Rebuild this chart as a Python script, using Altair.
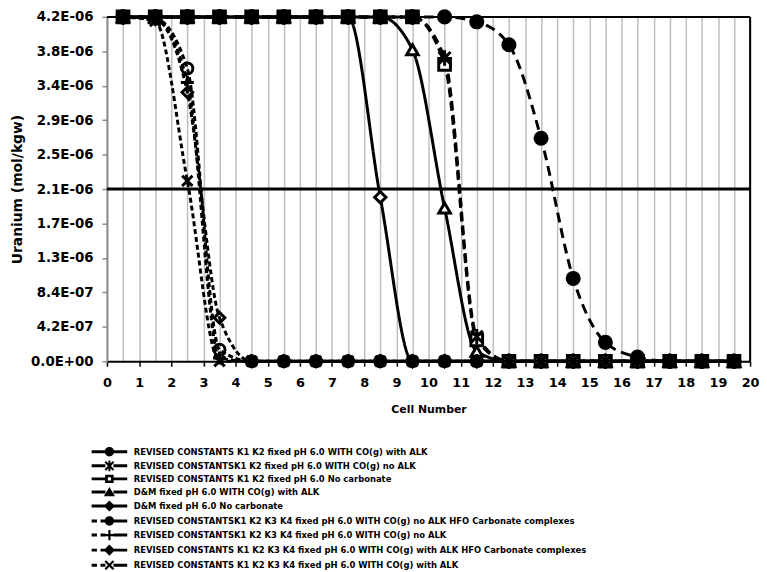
import altair as alt
import pandas as pd

# ---------------- data ----------------
cells = [0.5, 1.5, 2.5, 3.5, 4.5, 5.5, 6.5, 7.5, 8.5, 9.5,
         10.5, 11.5, 12.5, 13.5, 14.5, 15.5, 16.5, 17.5, 18.5, 19.5]

series_names = [
    "REVISED CONSTANTS K1 K2 fixed pH 6.0 WITH CO(g) with ALK",
    "REVISED CONSTANTSK1 K2 fixed pH 6.0 WITH CO(g) no ALK",
    "REVISED CONSTANTS K1 K2 fixed pH 6.0 No carbonate",
    "D&M fixed pH 6.0 WITH CO(g) with ALK",
    "D&M fixed pH 6.0 No carbonate",
    "REVISED CONSTANTSK1 K2 K3 K4 fixed pH 6.0 WITH CO(g) no ALK HFO Carbonate complexes",
    "REVISED CONSTANTSK1 K2 K3 K4 fixed pH 6.0 WITH CO(g) no ALK",
    "REVISED CONSTANTS K1 K2 K3 K4 fixed pH 6.0 WITH CO(g) with ALK HFO Carbonate complexes",
    "REVISED CONSTANTS K1 K2 K3 K4 fixed pH 6.0 WITH CO(g) with ALK",
]

s1 = [4.2e-6, 4.2e-6, 4.2e-6, 4.2e-6, 4.2e-6, 4.2e-6, 4.2e-6, 4.2e-6, 4.2e-6, 4.2e-6,
      4.2e-6, 4.14e-6, 3.86e-6, 2.72e-6, 1.01e-6, 0.23e-6, 0.05e-6, 0.0, 0.0, 0.0]
s2 = [4.2e-6, 4.2e-6, 4.2e-6, 4.2e-6, 4.2e-6, 4.2e-6, 4.2e-6, 4.2e-6, 4.2e-6, 4.2e-6,
      3.70e-6, 0.30e-6, 0.0, 0.0, 0.0, 0.0, 0.0, 0.0, 0.0, 0.0]
s3 = [4.2e-6, 4.2e-6, 4.2e-6, 4.2e-6, 4.2e-6, 4.2e-6, 4.2e-6, 4.2e-6, 4.2e-6, 4.2e-6,
      3.62e-6, 0.26e-6, 0.0, 0.0, 0.0, 0.0, 0.0, 0.0, 0.0, 0.0]
s4 = [4.2e-6, 4.2e-6, 4.2e-6, 4.2e-6, 4.2e-6, 4.2e-6, 4.2e-6, 4.2e-6, 4.2e-6, 3.80e-6,
      1.87e-6, 0.12e-6, 0.0, 0.0, 0.0, 0.0, 0.0, 0.0, 0.0, 0.0]
s5 = [4.2e-6, 4.2e-6, 4.2e-6, 4.2e-6, 4.2e-6, 4.2e-6, 4.2e-6, 4.2e-6, 2.00e-6, 0.0,
      0.0, 0.0, 0.0, 0.0, 0.0, 0.0, 0.0, 0.0, 0.0, 0.0]
s6 = [4.2e-6, 4.18e-6, 3.57e-6, 0.14e-6, 0.0, 0.0, 0.0, 0.0, 0.0, 0.0,
      0.0, 0.0, 0.0, 0.0, 0.0, 0.0, 0.0, 0.0, 0.0, 0.0]
s7 = [4.2e-6, 4.18e-6, 3.40e-6, 0.04e-6, 0.0, 0.0, 0.0, 0.0, 0.0, 0.0,
      0.0, 0.0, 0.0, 0.0, 0.0, 0.0, 0.0, 0.0, 0.0, 0.0]
s8 = [4.2e-6, 4.17e-6, 3.28e-6, 0.53e-6, 0.0, 0.0, 0.0, 0.0, 0.0, 0.0,
      0.0, 0.0, 0.0, 0.0, 0.0, 0.0, 0.0, 0.0, 0.0, 0.0]
s9 = [4.2e-6, 4.15e-6, 2.20e-6, 0.0, 0.0, 0.0, 0.0, 0.0, 0.0, 0.0,
      0.0, 0.0, 0.0, 0.0, 0.0, 0.0, 0.0, 0.0, 0.0, 0.0]
series_values = [s1, s2, s3, s4, s5, s6, s7, s8, s9]

# reference levels
half_level = [2.1e-6]
y_max = [4.2e-6]
x_max = [20]

x_tick_labels = [str(i) for i in range(0, 21)]
y_tick_values = [0.0, 0.42e-6, 0.84e-6, 1.26e-6, 1.68e-6, 2.10e-6,
                 2.52e-6, 2.94e-6, 3.36e-6, 3.78e-6, 4.20e-6]
y_tick_labels = ["0.0E+00", "4.2E-07", "8.4E-07", "1.3E-06", "1.7E-06", "2.1E-06",
                 "2.5E-06", "2.9E-06", "3.4E-06", "3.8E-06", "4.2E-06"]

# ---------------- styles ----------------
FONT = "DejaVu Sans"
dash_range = [[10, 6], [9, 5], [9, 5], [1, 0], [1, 0], [5, 3], [5, 3], [5, 3], [5, 3]]

star = "M-1,-1L1,1M-1,1L1,-1M0,-1.3V1.3"
plus = "M-1.2,0H1.2M0,-1.2V1.2"
xmark = "M-1,-1L1,1M-1,1L1,-1"
shape_range = ["circle", star, "square", "triangle-up", "diamond", "circle", plus, "diamond", xmark]
fill_range = ["black", "transparent", "white", "white", "white", "transparent",
              "transparent", "transparent", "transparent"]
size_range = [150, 110, 140, 150, 140, 115, 110, 130, 100]
draw_rank = [5, 8, 4, 1, 0, 2, 6, 3, 7]

# legend symbols (line + marker) as filled paths
L_solid = "M-4,-0.33H-0.9V0.33H-4ZM0.9,-0.33H4V0.33H0.9Z"
L_dash = "M-4,-0.33H-2.8V0.33H-4ZM-2,-0.33H-0.9V0.33H-2ZM0.9,-0.33H4V0.33H0.9Z"
m_circle = "M-1.05,0A1.05,1.05 0 1,1 1.05,0A1.05,1.05 0 1,1 -1.05,0Z"
m_square = "M-0.95,-0.95H0.95V0.95H-0.95ZM-0.35,-0.35V0.35H0.35V-0.35Z"
m_tri = "M0,-1.1L1.25,0.95H-1.25Z"
m_diam = "M0,-1.25L1.25,0L0,1.25L-1.25,0Z"
m_plus = "M-0.25,-1.15H0.25V1.15H-0.25ZM-1.15,-0.25H1.15V0.25H-1.15Z"
m_x = ("M-0.75,-1.1L1.1,0.75L0.75,1.1L-1.1,-0.75Z"
       "M1.1,-0.75L-0.75,1.1L-1.1,0.75L0.75,-1.1Z")
m_star = m_x + "M-0.22,-1.2H0.22V1.2H-0.22Z"
legend_paths = [L_solid + m_circle, L_solid + m_star, L_solid + m_square,
                L_solid + m_tri, L_solid + m_diam, L_dash + m_circle,
                L_dash + m_plus, L_dash + m_diam, L_dash + m_x]

rows = []
for i, (name, vals) in enumerate(zip(series_names, series_values)):
    for c, v in zip(cells, vals):
        rows.append({"series": name, "rank": draw_rank[i], "cell": c, "u": v})
df = pd.DataFrame(rows)
df_points = df.sort_values(["rank", "cell"], kind="stable").reset_index(drop=True)

# ---------------- scales / axes ----------------
x_grid_vals = [i / 2 for i in range(0, 41)]
xscale = alt.Scale(domain=[0, 20], nice=False, zero=False)
yscale = alt.Scale(domain=[0, 4.2e-6], nice=False)

xaxis = alt.Axis(
    values=x_grid_vals,
    labelExpr="datum.value % 1 === 0 ? [" + ",".join("'%s'" % t for t in x_tick_labels)
              + "][round(datum.value)] : ''",
    grid=True, gridColor="#bfbfbf", gridWidth=1.5,
    domainColor="black", domainWidth=2,
    tickColor="black", tickWidth=1.5, tickSize=5,
    tickOpacity={"condition": {"test": "datum.value % 1 !== 0", "value": 0}, "value": 1},
    labelFont=FONT, labelFontWeight="bold", labelFontSize=13, labelColor="black",
    labelPadding=11, labelFlush=False, labelOverlap=False,
    titleFont=FONT, titleFontWeight="bold", titleFontSize=11, titleColor="black",
    titlePadding=14,
)
yaxis = alt.Axis(
    values=y_tick_values,
    labelExpr="[" + ",".join("'%s'" % t for t in y_tick_labels) + "][round(datum.value / 4.2e-7)]",
    grid=False,
    domainColor="#8c8c8c", domainWidth=2,
    tickColor="#8c8c8c", tickWidth=1.5, tickSize=5,
    labelFont=FONT, labelFontWeight="bold", labelFontSize=13.5, labelColor="black",
    labelPadding=9, labelOverlap=False,
    titleFont=FONT, titleFontWeight="bold", titleFontSize=14, titleColor="black",
    titlePadding=6,
)


def X(field="cell"):
    return alt.X(field + ":Q", scale=xscale, axis=xaxis, title="Cell Number")


def Y(field="u"):
    return alt.Y(field + ":Q", scale=yscale, axis=yaxis, title="Uranium (mol/kgw)")


# ---------------- layers ----------------
top_rule = alt.Chart(pd.DataFrame({"u": y_max})).mark_rule(
    color="black", strokeWidth=2).encode(y=Y())
right_rule = alt.Chart(pd.DataFrame({"cell": x_max})).mark_rule(
    color="black", strokeWidth=2).encode(x=X())
half_rule = alt.Chart(pd.DataFrame({"u": half_level})).mark_rule(
    color="black", strokeWidth=3).encode(y=Y())

lines = alt.Chart(df).mark_line(
    interpolate="monotone", strokeWidth=3, color="black", clip=False
).encode(
    x=X(), y=Y(),
    strokeDash=alt.StrokeDash("series:N", scale=alt.Scale(domain=series_names, range=dash_range),
                              legend=None),
)

points = alt.Chart(df_points).mark_point(
    stroke="black", strokeWidth=3, opacity=1, clip=False
).encode(
    x=X(), y=Y(),
    shape=alt.Shape("series:N", scale=alt.Scale(domain=series_names, range=shape_range), legend=None),
    fill=alt.Fill("series:N", scale=alt.Scale(domain=series_names, range=fill_range), legend=None),
    size=alt.Size("series:N", scale=alt.Scale(domain=series_names, range=size_range), legend=None),
)

legend_layer = alt.Chart(df).mark_point(
    filled=True, color="black", opacity=1
).encode(
    x=X(), y=Y(),
    shape=alt.Shape(
        "series:N",
        scale=alt.Scale(domain=series_names, range=legend_paths),
        legend=alt.Legend(
            orient="none", legendX=-2, legendY=435, title=None, direction="vertical",
            labelFont=FONT, labelFontWeight="bold", labelFontSize=8.5, labelColor="black",
            labelLimit=1000, labelOffset=20, symbolSize=81, symbolStrokeWidth=0,
            symbolFillColor="black", rowPadding=3.2, padding=0,
        ),
    ),
).transform_filter("false")

chart = alt.layer(
    half_rule, lines, points, top_rule, right_rule, legend_layer
).resolve_scale(
    shape="independent"
).properties(
    width=650, height=348,
    autosize=alt.AutoSizeParams(type="none"),
    padding={"left": 100, "top": 6, "right": 9, "bottom": 208},
    background="white",
).configure_view(stroke=None)

chart.save("out.html", embed_options={"renderer": "svg", "actions": False})
